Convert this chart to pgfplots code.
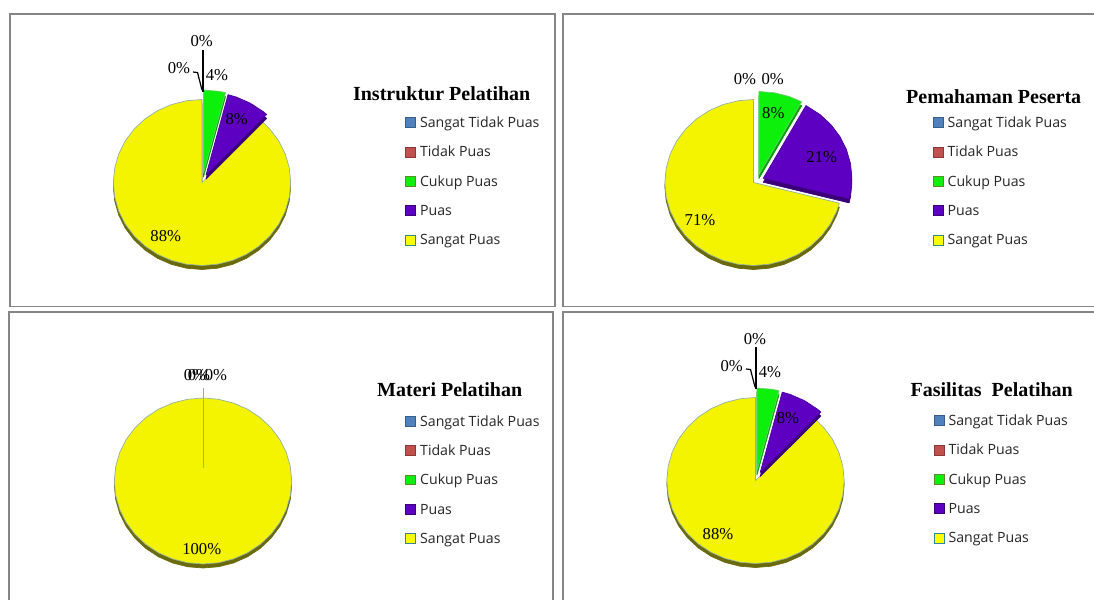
\documentclass[border=0pt]{standalone}
\usepackage{fontspec}
\setmainfont{Liberation Serif}
\newfontfamily\legfont{Open Sans}
\usepackage{pgfplots}
\pgfplotsset{compat=1.18}

\definecolor{spY}{HTML}{F4F400}
\definecolor{spYd}{HTML}{8FB0A8}
\definecolor{spYs}{HTML}{6A6A0C}
\definecolor{cpG}{HTML}{0CF00C}
\definecolor{cpGd}{HTML}{6CD06C}
\definecolor{cpGs}{HTML}{07A007}
\definecolor{puP}{HTML}{5E00C2}
\definecolor{puPd}{HTML}{4A0099}
\definecolor{puPs}{HTML}{3A0078}
\definecolor{boxc}{HTML}{858585}
\definecolor{stB}{HTML}{4F81BD}
\definecolor{stBd}{HTML}{385D8A}
\definecolor{tpR}{HTML}{C0504D}
\definecolor{tpRd}{HTML}{8C3836}
\definecolor{cpLd}{HTML}{5E8A2E}
\definecolor{spL}{HTML}{FFFF00}
\definecolor{spLd}{HTML}{31859C}

\pgfplotsset{
  pie/.style={hide axis, scale only axis, width=133pt, height=124.5pt,
    xmin=-1, xmax=1, ymin=-1, ymax=1, clip=false, anchor=center,
    legend cell align=left,
    legend image code/.code={\draw[##1, line width=0.8pt] (0pt,-2.9pt) rectangle (7.4pt,4.5pt);},
    legend style={draw=none, fill=none, inner sep=0pt, row sep=11.5pt, column sep=3pt,
      font=\legfont\fontsize{10.6}{12}\selectfont, text=black!85,
      nodes={inner sep=0pt, text height=8pt, text depth=2.5pt},
      anchor=north west, cells={anchor=west}}},
  sl/.style n args={3}{data cs=polar, forget plot, fill=#1, draw=#2, line width=0.5pt,
    line join=round, preaction={fill=#3, draw=#3, transform canvas={yshift=-3pt}}},
}

\newcommand\legendset{%
  \addlegendimage{fill=stB, draw=stBd}\addlegendentry{Sangat Tidak Puas}
  \addlegendimage{fill=tpR, draw=tpRd}\addlegendentry{Tidak Puas}
  \addlegendimage{fill=cpG, draw=cpLd}\addlegendentry{Cukup Puas}
  \addlegendimage{fill=puP, draw=puPs}\addlegendentry{Puas}
  \addlegendimage{fill=spL, draw=spLd}\addlegendentry{Sangat Puas}}

\begin{document}
\begin{tikzpicture}
\begin{scope}[x=0.75pt, y=-0.75pt]
\useasboundingbox (0,0) rectangle (1094,599);
\fill[white] (0,0) rectangle (1094,599);
\draw[boxc, line width=1.1pt] (10,14) rectangle (555,306.5);
\draw[boxc, line width=1.1pt] (563,14) rectangle (1100,306.5);
\draw[boxc, line width=1.1pt] (9,312) rectangle (553,605);
\draw[boxc, line width=1.1pt] (563,312) rectangle (1100,605);
\end{scope}

% Instruktur Pelatihan: 0, 0, 4, 8, 88 %
\begin{axis}[pie, at={(151.5pt,-136.875pt)}, legend style={at={(1.644,0.897)}}]
\addplot[sl={spY}{spYd}{spYs}] coordinates {(0,0) (46.8,1) (40,1) (30,1) (20,1) (10,1) (0,1) (-10,1) (-20,1) (-30,1) (-40,1) (-50,1) (-60,1) (-70,1) (-80,1) (-90,1) (-100,1) (-110,1) (-120,1) (-130,1) (-140,1) (-150,1) (-160,1) (-170,1) (-180,1) (-190,1) (-200,1) (-210,1) (-220,1) (-230,1) (-240,1) (-250,1) (-260,1) (-270,1) (0,0)} -- cycle;
\addplot[sl={cpG}{cpGd}{cpGs}, xshift=1.1pt, yshift=7.1pt] coordinates {(0,0) (90,1) (80,1) (75.6,1) (0,0)} -- cycle;
\addplot[sl={puP}{puPd}{puPs}, xshift=3pt, yshift=5.6pt] coordinates {(0,0) (75.6,1) (70,1) (60,1) (50,1) (46.8,1) (0,0)} -- cycle;
\legendset
\end{axis}

% Pemahaman Peserta: 0, 0, 8, 21, 71 %
\begin{axis}[pie, at={(565.125pt,-136.875pt)}, legend style={at={(1.509,0.897)}}]
\addplot[sl={spY}{spYd}{spYs}] coordinates {(0,0) (-14.4,1) (-20,1) (-30,1) (-40,1) (-50,1) (-60,1) (-70,1) (-80,1) (-90,1) (-100,1) (-110,1) (-120,1) (-130,1) (-140,1) (-150,1) (-160,1) (-170,1) (-180,1) (-190,1) (-200,1) (-210,1) (-220,1) (-230,1) (-240,1) (-250,1) (-260,1) (-270,1) (0,0)} -- cycle;
\addplot[sl={cpG}{cpGd}{cpGs}, xshift=4.1pt, yshift=6pt] coordinates {(0,0) (90,1) (80,1) (70,1) (61.2,1) (0,0)} -- cycle;
\addplot[sl={puP}{puPd}{puPs}, xshift=7.3pt, yshift=3.2pt] coordinates {(0,0) (61.2,1) (50,1) (40,1) (30,1) (20,1) (10,1) (0,1) (-10,1) (-14.4,1) (0,0)} -- cycle;
\legendset
\end{axis}

% Materi Pelatihan: 0, 0, 0, 0, 100 %
\begin{axis}[pie, at={(152.25pt,-360.75pt)}, legend style={at={(1.639,0.897)}}]
\addplot[sl={spY}{spYd}{spYs}] coordinates {(90,1) (80,1) (70,1) (60,1) (50,1) (40,1) (30,1) (20,1) (10,1) (0,1) (-10,1) (-20,1) (-30,1) (-40,1) (-50,1) (-60,1) (-70,1) (-80,1) (-90,1) (-100,1) (-110,1) (-120,1) (-130,1) (-140,1) (-150,1) (-160,1) (-170,1) (-180,1) (-190,1) (-200,1) (-210,1) (-220,1) (-230,1) (-240,1) (-250,1) (-260,1) (-270,1)} -- cycle;
\legendset
\end{axis}

% Fasilitas Pelatihan: 0, 0, 4, 8, 88 %
\begin{axis}[pie, at={(566.625pt,-360.375pt)}, legend style={at={(1.503,0.897)}}]
\addplot[sl={spY}{spYd}{spYs}] coordinates {(0,0) (46.8,1) (40,1) (30,1) (20,1) (10,1) (0,1) (-10,1) (-20,1) (-30,1) (-40,1) (-50,1) (-60,1) (-70,1) (-80,1) (-90,1) (-100,1) (-110,1) (-120,1) (-130,1) (-140,1) (-150,1) (-160,1) (-170,1) (-180,1) (-190,1) (-200,1) (-210,1) (-220,1) (-230,1) (-240,1) (-250,1) (-260,1) (-270,1) (0,0)} -- cycle;
\addplot[sl={cpG}{cpGd}{cpGs}, xshift=1.1pt, yshift=7.1pt] coordinates {(0,0) (90,1) (80,1) (75.6,1) (0,0)} -- cycle;
\addplot[sl={puP}{puPd}{puPs}, xshift=3.5pt, yshift=6pt] coordinates {(0,0) (75.6,1) (70,1) (60,1) (50,1) (46.8,1) (0,0)} -- cycle;
\legendset
\end{axis}

\begin{scope}[x=0.75pt, y=-0.75pt]
% titles
\begin{scope}[every node/.style={font=\bfseries\fontsize{15}{18}\selectfont, anchor=base, inner sep=0pt}]
\node at (441.7,100.7) {Instruktur Pelatihan};
\node at (993.7,103.3) {Pemahaman Peserta};
\node at (449.7,396) {Materi Pelatihan};
\node at (991.7,396.7) {Fasilitas\ \ Pelatihan};
\end{scope}

% data labels
\begin{scope}[every node/.style={font=\fontsize{12.5}{15}\selectfont, inner sep=0pt}]
\draw[black, line width=0.9pt] (203,50) -- (203,92);
\draw[black, line width=0.9pt] (193,72) -- (197.5,72.5) -- (202,90);
\node at (201.7,40.7) {0\%};
\node at (179,67.7) {0\%};
\node at (217,75) {4\%};
\node at (236.7,119.3) {8\%};
\node at (165.7,236) {88\%};

\node at (745,79) {0\%};
\node at (772.7,79) {0\%};
\node at (773.3,113.3) {8\%};
\node at (821.7,157.3) {21\%};
\node at (700,220) {71\%};

\draw[black!35, line width=0.6pt] (203,388) -- (203,468);
\node at (195,375) {0\%};
\node at (199,375) {0\%};
\node at (216,375) {0\%};
\node at (201.7,549.3) {100\%};

\draw[black, line width=0.9pt] (756,347) -- (756,389);
\draw[black, line width=0.9pt] (746,369) -- (750.5,369.5) -- (755,387);
\node at (755,339.3) {0\%};
\node at (731.7,366) {0\%};
\node at (770,371.7) {4\%};
\node at (788,418) {8\%};
\node at (718,534) {88\%};
\end{scope}
\end{scope}
\end{tikzpicture}
\end{document}
